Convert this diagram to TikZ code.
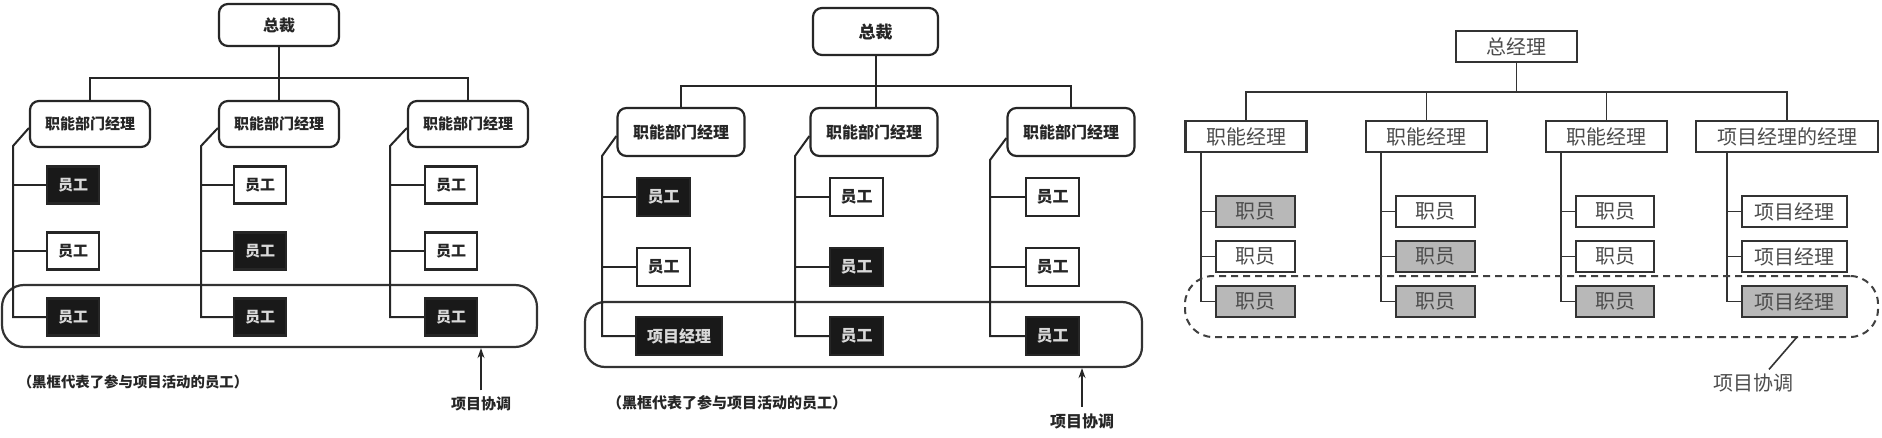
\documentclass[tikz,border=0pt]{standalone}
\usepackage{fontspec}
\setmainfont{Noto Sans CJK SC}
\usetikzlibrary{arrows.meta,calc}
\begin{document}
\begin{tikzpicture}[x=0.5pt,y=-0.5pt,
  ln/.style={line width=1pt, draw=black!85},
  hl/.style={draw=black!80, line width=1.1pt, rounded corners=11pt, inner sep=0pt},
  box/.style={draw=black!85, line width=1.1pt, inner sep=0pt, fill=white, text=black!85},
  rbox/.style={box, rounded corners=4.5pt},
  fA/.style={font=\bfseries\fontsize{7.5}{8}\selectfont},
  fB/.style={font=\bfseries\fontsize{8}{9}\selectfont},
  mgA/.style={rbox, fA, minimum width=60pt, minimum height=23pt},
  mgB/.style={rbox, fB, minimum width=63.5pt, minimum height=24pt},
  eA/.style={box, fA, minimum width=26pt, minimum height=18.5pt},
  eB/.style={box, fB, minimum width=26.5pt, minimum height=19pt},
  blk/.style={fill=black!90, text=white!85!black},
  lab/.style={inner sep=0pt, text=black!85},
  ln3/.style={line width=0.8pt, draw=black!80},
  b3/.style={draw=black!80, line width=1.2pt, inner sep=0pt, fill=white, text=black!70,
    font=\fontsize{10}{11}\selectfont, minimum height=15.5pt},
  g3/.style={fill=black!28},
]
\useasboundingbox (0,0) rectangle (1882,438);
\fill[white] (0,0) rectangle (1882,438);

% ================= Panel 1 =================
\node[hl, minimum width=267.5pt, minimum height=31pt] (ah) at (269.5,316) {};
\node[rbox, fB, minimum width=60pt, minimum height=21pt] (a0) at (279,25) {总裁};
\node[mgA] (a1) at (90,124) {职能部门经理};
\node[mgA] (a2) at (279,124) {职能部门经理};
\node[mgA] (a3) at (468,124) {职能部门经理};
\draw[ln] (a0.south) -- (a2.north);
\draw[ln] (a1.north) -- ++(0,-22) -| (a3.north);

\node[eA, blk] (a11) at (73,185) {员工};
\node[eA] (a12) at (73,251) {员工};
\node[eA, blk] (a13) at (73,317) {员工};
\node[eA] (a21) at (260,185) {员工};
\node[eA, blk] (a22) at (260,251) {员工};
\node[eA, blk] (a23) at (260,317) {员工};
\node[eA] (a31) at (451,185) {员工};
\node[eA] (a32) at (451,251) {员工};
\node[eA, blk] (a33) at (451,317) {员工};
\coordinate (a1s) at (13,146);
\coordinate (a2s) at (201,146);
\coordinate (a3s) at (390,146);
\draw[ln] ($(a1.west)+(0,4)$) -- (a1s) |- (a13.west);
\draw[ln] ($(a2.west)+(0,4)$) -- (a2s) |- (a23.west);
\draw[ln] ($(a3.west)+(0,4)$) -- (a3s) |- (a33.west);
\draw[ln] (a11.west -| a1s) -- (a11.west);
\draw[ln] (a12.west -| a1s) -- (a12.west);
\draw[ln] (a21.west -| a2s) -- (a21.west);
\draw[ln] (a22.west -| a2s) -- (a22.west);
\draw[ln] (a31.west -| a3s) -- (a31.west);
\draw[ln] (a32.west -| a3s) -- (a32.west);

\node[lab, font=\bfseries\fontsize{7.2}{8}\selectfont] (acap) at (133,382) {（黑框代表了参与项目活动的员工）};
\node[lab, fA] (alab) at (481,404) {项目协调};
\draw[ln, -{Stealth[length=5pt,width=3.5pt]}] (alab.north) ++(0,-6) -- (alab.north |- ah.south);

% ================= Panel 2 =================
\node[hl, minimum width=278.5pt, minimum height=32.5pt, rounded corners=10pt] (bh) at (863.5,334.5) {};
\node[rbox, font=\bfseries\fontsize{8.5}{9}\selectfont, minimum width=62.5pt, minimum height=23.5pt] (b0) at (875.5,31.5) {总裁};
\node[mgB] (b1) at (681,132) {职能部门经理};
\node[mgB] (b2) at (874,132) {职能部门经理};
\node[mgB] (b3) at (1071,132) {职能部门经理};
\draw[ln] (b0.south) -- (b0.south |- b2.north);
\draw[ln] (b1.north) -- ++(0,-21) -| (b3.north);

\node[eB, blk] (b11) at (663.5,197) {员工};
\node[eB] (b12) at (663.5,267) {员工};
\node[eB, blk, minimum width=43pt] (b13) at (679,336) {项目经理};
\node[eB] (b21) at (856.5,197) {员工};
\node[eB, blk] (b22) at (856.5,267) {员工};
\node[eB, blk] (b23) at (856.5,336) {员工};
\node[eB] (b31) at (1052.5,197) {员工};
\node[eB] (b32) at (1052.5,267) {员工};
\node[eB, blk] (b33) at (1052.5,336) {员工};
\coordinate (b1s) at (602,156);
\coordinate (b2s) at (795,156);
\coordinate (b3s) at (990,160);
\draw[ln] ($(b1.west)+(0,4)$) -- (b1s) |- (b13.west);
\draw[ln] ($(b2.west)+(0,4)$) -- (b2s) |- (b23.west);
\draw[ln] ($(b3.west)+(0,6)$) -- (b3s) |- (b33.west);
\draw[ln] (b11.west -| b1s) -- (b11.west);
\draw[ln] (b12.west -| b1s) -- (b12.west);
\draw[ln] (b21.west -| b2s) -- (b21.west);
\draw[ln] (b22.west -| b2s) -- (b22.west);
\draw[ln] (b31.west -| b3s) -- (b31.west);
\draw[ln] (b32.west -| b3s) -- (b32.west);

\node[lab, font=\bfseries\fontsize{7.5}{8}\selectfont] (bcap) at (727,403) {（黑框代表了参与项目活动的员工）};
\node[lab, fB] (blab) at (1082,421) {项目协调};
\draw[ln, -{Stealth[length=5pt,width=3.5pt]}] (blab.north) ++(0,-6) -- (blab.north |- bh.south);

% ================= Panel 3 =================
\node[b3, minimum width=60.5pt] (c0) at (1516.5,46.5) {总经理};
\node[b3, minimum width=60.5pt] (c1) at (1246,136.5) {职能经理};
\node[b3, minimum width=60.5pt] (c2) at (1426.5,136.5) {职能经理};
\node[b3, minimum width=60.5pt] (c3) at (1606.5,136.5) {职能经理};
\node[b3, minimum width=91pt] (c4) at (1787,136.5) {项目经理的经理};
\draw[ln3] (c0.south) -- ++(0,29) coordinate (cbar);
\draw[ln3] (c1.north) |- (cbar) -| (c4.north);
\draw[ln3] (c2.north) -- (c2.north |- cbar);
\draw[ln3] (c3.north) -- (c3.north |- cbar);

\node[b3, g3, minimum width=39.5pt] (c11) at (1255.5,211.5) {职员};
\node[b3, minimum width=39.5pt] (c12) at (1255.5,256.5) {职员};
\node[b3, g3, minimum width=39.5pt] (c13) at (1255.5,301.5) {职员};
\node[b3, minimum width=39.5pt] (c21) at (1435.5,211.5) {职员};
\node[b3, g3, minimum width=39.5pt] (c22) at (1435.5,256.5) {职员};
\node[b3, g3, minimum width=39.5pt] (c23) at (1435.5,301.5) {职员};
\node[b3, minimum width=39pt] (c31) at (1615,211.5) {职员};
\node[b3, minimum width=39pt] (c32) at (1615,256.5) {职员};
\node[b3, g3, minimum width=39pt] (c33) at (1615,301.5) {职员};
\node[b3, minimum width=52.5pt] (c41) at (1794.5,211.5) {项目经理};
\node[b3, minimum width=52.5pt] (c42) at (1794.5,256.5) {项目经理};
\node[b3, g3, minimum width=52.5pt] (c43) at (1794.5,301.5) {项目经理};

\coordinate (c1s) at (1201,152);
\coordinate (c2s) at (1381,152);
\coordinate (c3s) at (1561,152);
\coordinate (c4s) at (1727,152);
\draw[ln3] (c1s) |- (c13.west);
\draw[ln3] (c2s) |- (c23.west);
\draw[ln3] (c3s) |- (c33.west);
\draw[ln3] (c4s) |- (c43.west);
\draw[ln3] (c11.west -| c1s) -- (c11.west);
\draw[ln3] (c12.west -| c1s) -- (c12.west);
\draw[ln3] (c21.west -| c2s) -- (c21.west);
\draw[ln3] (c22.west -| c2s) -- (c22.west);
\draw[ln3] (c31.west -| c3s) -- (c31.west);
\draw[ln3] (c32.west -| c3s) -- (c32.west);
\draw[ln3] (c41.west -| c4s) -- (c41.west);
\draw[ln3] (c42.west -| c4s) -- (c42.west);

\node[draw=black!75, line width=1pt, dash pattern=on 3.5pt off 2.5pt, rounded corners=14pt,
  inner sep=0pt, minimum width=346.5pt, minimum height=30.5pt] (ch) at (1531.5,306.5) {};
\node[lab, text=black!70, font=\fontsize{10}{11}\selectfont] (clab) at (1753,383) {项目协调};
\coordinate (clt) at (1797,337);
\draw[ln3] (clt) -- ($(clab.north)+(16,-4)$);
\end{tikzpicture}
\end{document}
